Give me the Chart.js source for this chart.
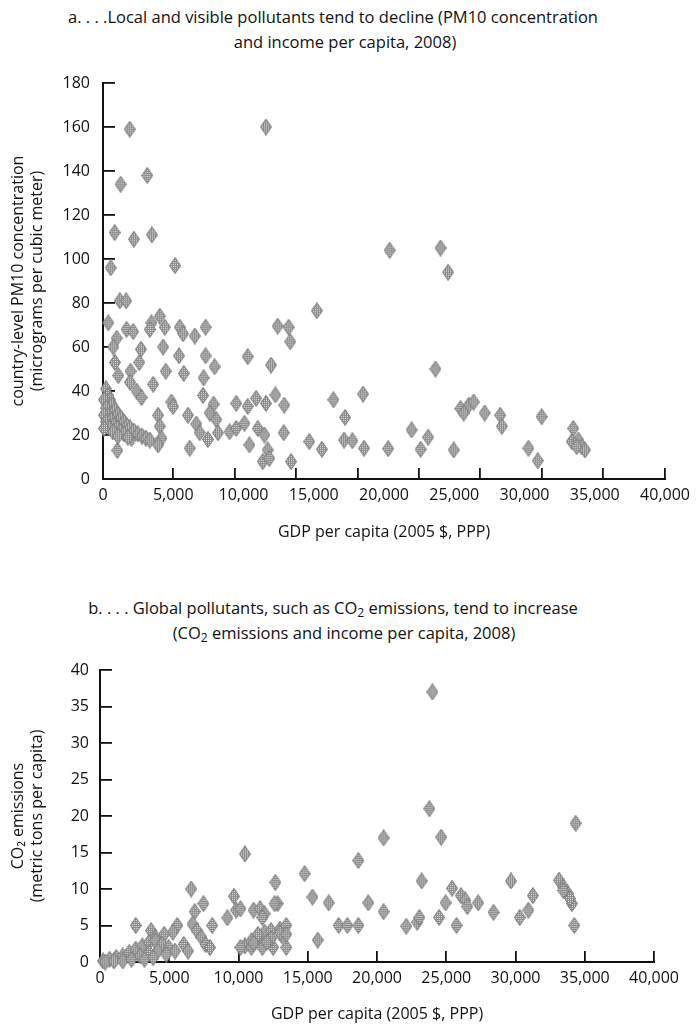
<!DOCTYPE html>
<html><head><meta charset="utf-8">
<script src="https://cdn.jsdelivr.net/npm/chart.js@4.4.1/dist/chart.umd.min.js"></script>
<style>
html,body{margin:0;padding:0;background:#fff;}
body{width:697px;height:1034px;position:relative;overflow:hidden;font-family:"Open Sans",sans-serif;color:#111;}
.t{position:absolute;text-align:center;font-size:16.5px;line-height:20px;white-space:nowrap;}
.t sub{font-size:12px;line-height:0;vertical-align:-3px;}
canvas{position:absolute;left:0;}
</style></head><body>
<div class="t" style="top:7px;left:0;width:666px">a. . . .Local and visible pollutants tend to decline (PM10 concentration</div>
<div class="t" style="top:32px;left:0;width:690px">and income per capita, 2008)</div>
<div class="t" style="top:598px;left:0;width:666px">b. . . . Global pollutants, such as CO<sub>2</sub> emissions, tend to increase</div>
<div class="t" style="top:623px;left:0;width:688px">(CO<sub>2</sub> emissions and income per capita, 2008)</div>
<canvas id="ca" width="697" height="545" style="top:0"></canvas>
<canvas id="cb" width="697" height="489" style="top:545px"></canvas>
<script>
// ---- Panel a: PM10 concentration vs GDP per capita ----
const pmGdp = [1900,11600,1250,3150,830,2200,3480,5130,550,20400,24020,24560,
 1200,1650,380,970,730,850,1090,1680,2150,2700,2580,1960,1920,2390,2740,
 3450,4040,3330,4400,4280,3570,4470,5460,5700,6530,7300,5410,5750,7300,7940,7160,7120,
 4870,4990,7870,7590,8060,6050,6640,6880,7470,8180,6170,3920,4040,4160,3920,2030,1020,
 210,360,500,640,850,1060,1280,1490,1700,1920,2200,2480,2770,3050,3330,
 70,210,360,570,780,990,1210,1490,1770,70,210,430,710,1060,70,
 9480,10300,10900,11600,12270,12900,10300,11960,12430,13210,13330,15220,
 9010,9480,10070,10420,11010,11490,11720,11370,11840,12860,13380,14680,15580,
 16400,17230,17160,17750,18510,18580,20300,
 23660,25440,26030,26380,25670,27160,28270,28390,31220,21960,23140,22600,24960,30280,30940,
 33470,33360,33830,34060,34300,33710];
const pmConc = [159,160,134,138,112,109,111,97,96,104,105,94,
 81,81,71,64,60,53,47,68,67,59,53,49,44,40,37,
 71,74,68,69,60,43,49,69,66,65,69,56,48,56,51,46,38,
 35,33,34,30,27,29,25,21,18,21,14,29,24,18.5,15.5,18.5,13,
 41,38,36,33.6,31.4,29.5,27.7,25.9,24.1,23.2,21.8,20.5,19.5,18.6,17.7,
 36,32.3,29,26.8,24.5,23.2,21.8,20.5,19,29,26,23.2,21.4,19.5,23,
 34.4,33,36.7,34.4,38.2,33.6,55.6,51.8,69.5,69,62.4,76.5,
 21.5,23,25.3,15.5,23,20,13.2,7.9,9.4,21,7.9,17,13.5,
 36,28,17.7,17.4,38.6,14,13.8,
 50,32,33.6,35,30,30,29,24,28.3,22.3,19,13.5,13.2,14,8.3,
 23,17,17.7,14.7,13.2,14.7];

// ---- Panel b: CO2 emissions vs GDP per capita ----
const co2Gdp = [24000,23780,34340,20475,24630,10460,18650,14770,12660,23220,29670,6580,
 25420,26050,26370,27300,24950,26520,28410,24480,30300,30930,31250,25740,
 33140,33450,33760,34070,33450,33930,34240,22110,22900,23060,17230,17860,18650,
 19370,20475,16510,15340,15720,12820,11090,9830,10140,9670,9200,11560,11880,11720,
 2580,6840,7470,8100,5580,5260,4630,6680,6990,7310,7620,7940,6050,6360,3690,4000,4160,
 220,690,1170,1640,2110,2580,3060,3530,4000,4470,4950,5420,380,1010,1640,2270,2900,3530,4160,4790,3840,3210,
 10460,10930,11400,11880,12350,12980,13450,10140,10930,11720,12500,13450,11400,12350,13130,12980,13450,11090,12030,12600];
const co2Emit = [37,21,19,17,17.1,14.8,13.9,12.1,10.9,11.1,11.1,10,
 10.1,9.1,8.5,8.1,8.1,7.6,6.8,6.1,6.1,7.1,9.1,5,
 11.2,10.3,9.4,8,9.8,8.7,5,4.9,5.45,6.1,5,5,5,
 8.1,6.9,8.1,8.9,3,8,7.1,7.1,7.3,9,6.05,7.3,6.6,6.1,
 5,6.9,8,5,5,4.1,3.8,5.2,4.3,3.4,2.4,2,2.4,1.5,4.3,3.4,2.4,
 0.14,0.37,0.6,0.83,1.3,1.76,2.2,2.7,2.9,2.45,2,1.5,0,0.14,0.14,0.37,0.83,1.3,1.5,1.06,0.6,0.37,
 2.2,2.9,3.4,4.1,4.3,4.5,5,2,2,2,2,2,3.8,3.2,3.6,4,3.8,2.6,2.7,8];

// axis ranges / tick steps
const gdpMax = 40000, gdpStep = 5000;
const pmMax = 180, pmStep = 20;
const co2Max = 40, co2Step = 5;
// panel a's printed tick marks are not registered with its labels
const pmTickMarks = [5000,10000,15000,20000,25000,30000,35000,40000,45000];

Chart.defaults.font.family = '"Open Sans", sans-serif';
Chart.defaults.font.size = 16;
Chart.defaults.color = '#111';

function makeDiamond(){
  const c = document.createElement('canvas'); c.width = 12; c.height = 17;
  const g = c.getContext('2d');
  g.beginPath(); g.moveTo(6,0.5); g.lineTo(11.5,8.5); g.lineTo(6,16.5); g.lineTo(0.5,8.5); g.closePath();
  g.fillStyle = '#e2e2e2'; g.fill();
  g.save(); g.clip();
  g.fillStyle = '#8c8c8c';
  for (let y = 0; y < 17; y += 2) for (let x = 0; x < 12; x++) g.fillRect(x, y, 1, 1);
  for (let x = 1; x < 12; x += 2) for (let y = 0; y < 17; y++) g.fillRect(x, y, 1, 1);
  g.restore();
  g.strokeStyle = '#7a7a7a'; g.lineWidth = 1; g.stroke();
  return c;
}
const diamond = makeDiamond();
const ink = '#111';
const fmt = v => Number(v).toLocaleString('en-US');

function pts(xs, ys){ return xs.map((x, i) => ({x: x, y: ys[i]})); }

function dataset(xs, ys){
  return {data: pts(xs, ys), pointStyle: diamond, pointRadius: 6, clip: false,
          backgroundColor: '#aaa', borderColor: '#777'};
}

new Chart(document.getElementById('ca'), {
  type: 'scatter',
  data: {datasets: [dataset(pmGdp, pmConc)]},
  options: {
    responsive: false, animation: false, events: [],
    devicePixelRatio: 1,
    layout: {padding: {top: 83, right: 30, bottom: 0, left: 0}},
    plugins: {legend: {display: false}, tooltip: {enabled: false}},
    scales: {
      x: {type: 'linear', position: 'bottom', min: 0, max: gdpMax,
          ticks: {stepSize: gdpStep, callback: fmt, padding: 7, maxRotation: 0},
          grid: {display: false, drawTicks: false},
          border: {display: true, color: ink, width: 2},
          title: {display: true, text: 'GDP per capita (2005 $, PPP)', padding: {top: 0, bottom: 3}},
          afterFit: s => { s.height = 66; }},
      xt: {type: 'linear', position: {y: 0}, min: -700, max: 45026,
          afterBuildTicks: s => { s.ticks = pmTickMarks.map(v => ({value: v})); },
          ticks: {display: false},
          grid: {display: true, drawOnChartArea: false, drawTicks: true, tickLength: -11, color: ink, lineWidth: 1.8},
          border: {display: false}},
      y: {type: 'linear', min: 0, max: pmMax,
          ticks: {stepSize: pmStep, padding: 25},
          grid: {display: true, drawOnChartArea: false, drawTicks: true, tickLength: -12, color: ink, lineWidth: 1.8},
          border: {display: true, color: ink, width: 2},
          title: {display: true, text: ['country-level PM10 concentration', '(micrograms per cubic meter)'], padding: {top: 9, bottom: 0}},
          afterFit: s => { s.width = 103; }}
    }
  }
});

new Chart(document.getElementById('cb'), {
  type: 'scatter',
  data: {datasets: [dataset(co2Gdp, co2Emit)]},
  options: {
    responsive: false, animation: false, events: [],
    devicePixelRatio: 1,
    layout: {padding: {top: 125, right: 32, bottom: 0, left: 0}},
    plugins: {legend: {display: false}, tooltip: {enabled: false}},
    scales: {
      x: {type: 'linear', position: 'bottom', min: 0, max: gdpMax,
          ticks: {stepSize: gdpStep, callback: fmt, padding: 18, maxRotation: 0},
          grid: {display: true, drawOnChartArea: false, drawTicks: true, tickLength: -11, color: ink, lineWidth: 1.8},
          border: {display: true, color: ink, width: 2},
          title: {display: true, text: 'GDP per capita (2005 $, PPP)', padding: {top: 0, bottom: 10}},
          afterFit: s => { s.height = 72; }},
      y: {type: 'linear', min: 0, max: co2Max,
          ticks: {stepSize: co2Step, padding: 23},
          grid: {display: true, drawOnChartArea: false, drawTicks: true, tickLength: -12, color: ink, lineWidth: 1.8},
          border: {display: true, color: ink, width: 2},
          title: {display: true, text: ['CO₂ emissions', '(metric tons per capita)'], padding: {top: 9, bottom: 0}},
          afterFit: s => { s.width = 100; }}
    }
  }
});
</script>
</body></html>
